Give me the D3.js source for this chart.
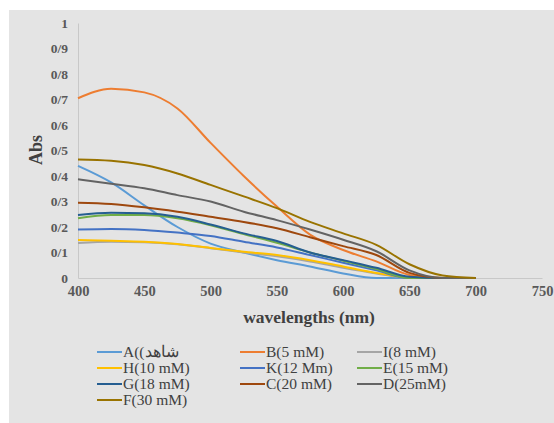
<!DOCTYPE html>
<html>
<head>
<meta charset="utf-8">
<script src="https://cdn.jsdelivr.net/npm/d3@7"></script>
<style>
  body { margin: 0; background: #fff; }
  text { font-family: "Liberation Serif", "Times New Roman", serif; }
</style>
</head>
<body>
<svg id="chart"></svg>
<script>
// wavelengths sampled (nm)
const wavelengths = [400, 425, 450, 475, 500, 525, 550, 575, 600, 625, 650, 675, 700];

const seriesA = [0.44, 0.375, 0.285, 0.20, 0.135, 0.10, 0.07, 0.045, 0.018, 0, 0, 0, 0];
const seriesB = [0.705, 0.742, 0.728, 0.665, 0.53, 0.40, 0.28, 0.17, 0.11, 0.065, 0.012, 0, 0];
const seriesI = [0.137, 0.142, 0.14, 0.132, 0.117, 0.10, 0.085, 0.065, 0.04, 0.018, 0, 0, 0];
const seriesH = [0.149, 0.146, 0.142, 0.133, 0.118, 0.103, 0.09, 0.07, 0.045, 0.02, 0.003, 0, 0];
const seriesK = [0.19, 0.192, 0.188, 0.178, 0.165, 0.142, 0.12, 0.09, 0.06, 0.03, 0, 0, 0];
const seriesE = [0.234, 0.247, 0.247, 0.234, 0.207, 0.172, 0.138, 0.10, 0.068, 0.035, 0, 0, 0];
const seriesG = [0.247, 0.256, 0.254, 0.24, 0.21, 0.175, 0.145, 0.10, 0.07, 0.04, 0.005, 0, 0];
const seriesC = [0.295, 0.29, 0.277, 0.26, 0.24, 0.22, 0.195, 0.16, 0.125, 0.09, 0.02, 0, 0];
const seriesD = [0.387, 0.37, 0.352, 0.325, 0.30, 0.26, 0.227, 0.19, 0.15, 0.105, 0.03, 0, 0];
const seriesF = [0.465, 0.46, 0.443, 0.41, 0.365, 0.32, 0.274, 0.22, 0.175, 0.13, 0.054, 0.01, 0];

const seriesNames = ["A((شاهد", "B(5 mM)", "I(8 mM)", "H(10 mM)", "K(12 Mm)", "E(15 mM)",
                     "G(18 mM)", "C(20 mM)", "D(25mM)", "F(30 mM)"];
const seriesValues = [seriesA, seriesB, seriesI, seriesH, seriesK, seriesE, seriesG, seriesC, seriesD, seriesF];
const seriesColors = ["#5b9bd5", "#ed7d31", "#a5a5a5", "#ffc000", "#4472c4", "#70ad47",
                      "#255e91", "#9e480e", "#636363", "#997300"];

const xTicks = [400, 450, 500, 550, 600, 650, 700, 750];
const yTicks = [0, 0.1, 0.2, 0.3, 0.4, 0.5, 0.6, 0.7, 0.8, 0.9, 1];

const width = 554, height = 423;
const margin = {top: 23, right: 12, bottom: 145, left: 78};

const svg = d3.select("#chart").attr("width", width).attr("height", height);

// gray panel
svg.append("rect")
  .attr("x", 9).attr("y", 10)
  .attr("width", width - 9).attr("height", height - 10)
  .attr("fill", "#e4e4e4");

const x = d3.scaleLinear().domain([400, 750]).range([margin.left, width - margin.right]);
const y = d3.scaleLinear().domain([0, 1]).range([height - margin.bottom, margin.top]);

const fmt = d => d === 0 ? "0" : d === 1 ? "1" : d3.format(".1f")(d).replace(".", "/");

// y axis
const yAxis = svg.append("g")
  .attr("transform", `translate(${margin.left},0)`)
  .call(d3.axisLeft(y).tickValues(yTicks).tickFormat(fmt).tickSize(0).tickPadding(10));
yAxis.select(".domain").attr("stroke", "#c8c8c8");
yAxis.selectAll("text")
  .attr("font-size", 13.5).attr("font-weight", "bold").attr("fill", "#595959")
  .style("font-family", "Liberation Serif, serif");

// x axis
const xAxis = svg.append("g")
  .attr("transform", `translate(0,${y(0)})`)
  .call(d3.axisBottom(x).tickValues(xTicks).tickFormat(d3.format("d")).tickSize(0).tickPadding(8));
xAxis.select(".domain").attr("stroke", "#c8c8c8");
xAxis.selectAll("text")
  .attr("font-size", 14.5).attr("font-weight", "bold").attr("fill", "#595959")
  .style("font-family", "Liberation Serif, serif");

// axis titles
svg.append("text")
  .attr("transform", `translate(42,150) rotate(-90)`)
  .attr("text-anchor", "middle")
  .attr("font-size", 18).attr("font-weight", "bold").attr("fill", "#404040")
  .text("Abs");

svg.append("text")
  .attr("x", 309).attr("y", 323)
  .attr("text-anchor", "middle")
  .attr("font-size", 17.5).attr("font-weight", "bold").attr("fill", "#404040")
  .text("wavelengths (nm)");

// lines
const line = d3.line()
  .x((d, i) => x(wavelengths[i]))
  .y(d => y(Math.max(0, d)))
  .curve(d3.curveMonotoneX);

svg.append("g").selectAll("path")
  .data(seriesValues)
  .join("path")
  .attr("d", d => line(d))
  .attr("fill", "none")
  .attr("stroke", (d, i) => seriesColors[i])
  .attr("stroke-width", 2);

// legend
const colX = [97, 240, 357];
const rowY = [352, 368, 384, 400];
const legend = svg.append("g").selectAll("g")
  .data(seriesNames)
  .join("g")
  .attr("transform", (d, i) => `translate(${colX[i % 3]},${rowY[Math.floor(i / 3)]})`);
legend.append("line")
  .attr("x1", 0).attr("x2", 25)
  .attr("stroke", (d, i) => seriesColors[i])
  .attr("stroke-width", 2);
legend.append("text")
  .attr("x", 26).attr("dy", "0.35em")
  .attr("font-size", 15.5).attr("fill", "#404040")
  .text(d => d);
</script>
</body>
</html>
